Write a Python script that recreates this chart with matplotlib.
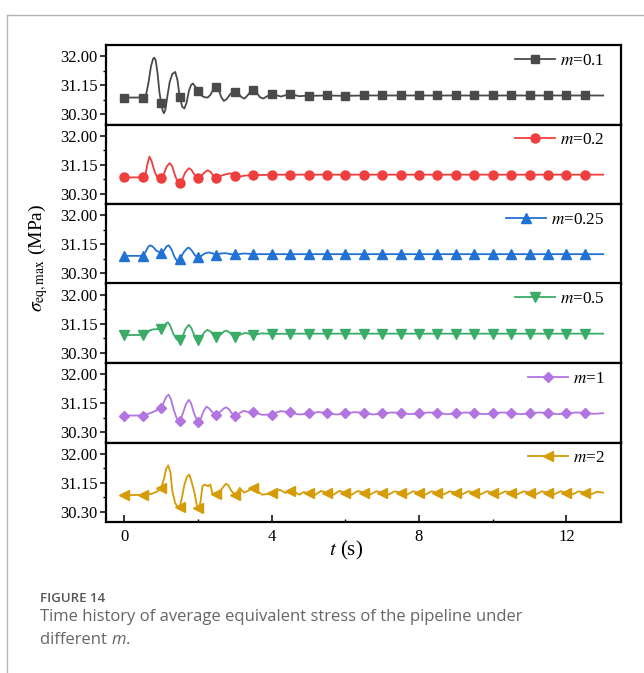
import matplotlib
matplotlib.use("Agg")
import matplotlib.pyplot as plt
from matplotlib.lines import Line2D
from matplotlib.ticker import FixedLocator

plt.rcParams['font.family'] = ['Liberation Serif', 'DejaVu Serif']
plt.rcParams['mathtext.fontset'] = 'stix'

# ---------------- data ----------------
labels = ["$m$=0.1", "$m$=0.2", "$m$=0.25", "$m$=0.5", "$m$=1", "$m$=2"]
colors = ["#4a4a4a", "#ef3e3e", "#2272d6", "#3aac68", "#b274e0", "#d59c06"]
markers = ["s", "o", "^", "v", "D", "<"]
msizes = [6.0, 6.5, 7.0, 7.0, 5.6, 7.0]

tail_t = [5.0, 5.5, 6.0, 6.5, 7.0, 7.5, 8.0, 8.5, 9.0, 9.5, 10.0, 10.5, 11.0, 11.5,
          12.0, 12.5, 13.0]

t_m01 = [0, 0.5, 0.58, 0.65, 0.72, 0.78, 0.81, 0.85, 0.9, 0.95, 1.0, 1.04, 1.07, 1.11,
         1.17, 1.23, 1.3, 1.38, 1.44, 1.5, 1.57, 1.63, 1.69, 1.75, 1.81, 1.86, 1.93,
         2.0, 2.08, 2.17, 2.26, 2.33, 2.42, 2.5, 2.56, 2.63, 2.7, 2.78, 2.88, 3.0, 3.1,
         3.18, 3.26, 3.35, 3.43, 3.5, 3.58, 3.68, 3.77, 3.88, 4.0, 4.12, 4.25, 4.38,
         4.5, 4.62, 4.75, 4.88] + tail_t
v_m01 = [30.79, 30.79, 30.84, 31.20, 31.70, 31.93, 31.96, 31.88, 31.50, 30.95, 30.62,
         30.40, 30.33, 30.42, 30.85, 31.25, 31.48, 31.54, 31.30, 30.82, 30.52, 30.47,
         30.65, 30.98, 31.16, 31.20, 31.10, 30.98, 30.86, 30.80, 30.79, 30.86, 31.04,
         31.10, 31.02, 30.80, 30.69, 30.75, 30.90, 30.96, 30.90, 30.80, 30.76, 30.86,
         30.98, 31.02, 30.95, 30.80, 30.76, 30.83, 30.89, 30.86, 30.82, 30.86, 30.89,
         30.86, 30.83, 30.84,
         30.84, 30.85, 30.84, 30.85, 30.85, 30.85, 30.85, 30.85, 30.85, 30.85, 30.85,
         30.85, 30.85, 30.85, 30.85, 30.85, 30.85]

t_m02 = [0, 0.5, 0.57, 0.62, 0.68, 0.74, 0.82, 0.9, 1.0, 1.07, 1.15, 1.23, 1.3, 1.38,
         1.45, 1.5, 1.56, 1.65, 1.75, 1.82, 1.9, 2.0, 2.08, 2.17, 2.26, 2.34, 2.42, 2.5,
         2.6, 2.75, 2.88, 3.0, 3.12, 3.25, 3.5, 3.75, 4.0, 4.5] + tail_t
v_m02 = [30.78, 30.78, 30.85, 31.15, 31.39, 31.25, 30.95, 30.77, 30.76, 30.88, 31.10,
         31.20, 31.10, 30.82, 30.64, 30.62, 30.68, 30.92, 31.05, 31.00, 30.86, 30.76,
         30.80, 30.92, 30.99, 30.94, 30.82, 30.76, 30.82, 30.87, 30.90, 30.83, 30.80,
         30.83, 30.85, 30.85, 30.86, 30.86,
         30.86, 30.86, 30.86, 30.86, 30.86, 30.86, 30.86, 30.86, 30.86, 30.86, 30.86,
         30.86, 30.86, 30.86, 30.86, 30.86, 30.86]

t_m025 = [0, 0.5, 0.57, 0.65, 0.7, 0.77, 0.87, 1.0, 1.07, 1.14, 1.2, 1.27, 1.36, 1.44,
          1.5, 1.62, 1.7, 1.75, 1.82, 1.92, 2.0, 2.08, 2.18, 2.29, 2.4, 2.5, 2.62,
          2.75, 2.88, 3.0, 3.25, 3.5, 4.0, 4.5] + tail_t
v_m025 = [30.81, 30.81, 30.92, 31.08, 31.12, 31.08, 30.96, 30.90, 30.96, 31.08, 31.12,
          31.02, 30.78, 30.64, 30.71, 30.93, 31.03, 31.05, 30.98, 30.82, 30.77, 30.80,
          30.88, 30.91, 30.88, 30.84, 30.88, 30.89, 30.86, 30.85, 30.88, 30.86, 30.86,
          30.86,
          30.86, 30.86, 30.86, 30.86, 30.86, 30.86, 30.86, 30.86, 30.86, 30.86, 30.86,
          30.86, 30.86, 30.86, 30.86, 30.86, 30.86]

t_m05 = [0, 0.5, 0.6, 0.68, 0.75, 0.85, 1.0, 1.08, 1.14, 1.18, 1.24, 1.33, 1.42, 1.5,
         1.57, 1.66, 1.75, 1.82, 1.9, 2.0, 2.08, 2.17, 2.25, 2.33, 2.42, 2.5, 2.62,
         2.7, 2.77, 2.86, 2.94, 3.0, 3.12, 3.27, 3.38, 3.5, 3.62, 3.75, 4.0, 4.5] + tail_t
v_m05 = [30.82, 30.82, 30.86, 30.95, 30.98, 30.99, 31.00, 31.08, 31.17, 31.19, 31.10,
         30.85, 30.69, 30.66, 30.75, 31.00, 31.12, 31.02, 30.80, 30.67, 30.75, 30.90,
         30.97, 30.93, 30.84, 30.77, 30.84, 30.92, 30.95, 30.89, 30.81, 30.77, 30.82,
         30.88, 30.86, 30.83, 30.85, 30.87, 30.85, 30.86,
         30.86, 30.86, 30.86, 30.86, 30.86, 30.86, 30.86, 30.86, 30.86, 30.86, 30.86,
         30.86, 30.86, 30.86, 30.86, 30.86, 30.86]

t_m1 = [0, 0.5, 0.75, 1.0, 1.07, 1.14, 1.2, 1.26, 1.35, 1.45, 1.5, 1.57, 1.67, 1.75,
        1.81, 1.9, 2.0, 2.06, 2.15, 2.23, 2.3, 2.39, 2.47, 2.5, 2.6, 2.7, 2.77, 2.85,
        2.93, 3.0, 3.1, 3.24, 3.37, 3.5, 3.62, 3.75, 3.88, 4.0, 4.12, 4.25, 4.37, 4.5,
        4.62, 4.75, 5.0, 5.25, 5.5, 5.75, 6.0, 6.25, 6.5, 6.75, 7.0, 7.25, 7.5, 7.75,
        8.0, 8.25, 8.5, 8.75, 9.0, 9.25, 9.5, 9.75, 10.0, 10.25, 10.5, 10.75, 11.0,
        11.25, 11.5, 11.75, 12.0, 12.25, 12.5, 12.75, 13.0]
v_m1 = [30.79, 30.79, 30.88, 31.01, 31.18, 31.35, 31.40, 31.28, 30.92, 30.62, 30.64,
        30.80, 31.12, 31.25, 31.15, 30.82, 30.60, 30.66, 30.92, 31.05, 31.00, 30.88,
        30.80, 30.81, 30.90, 31.00, 31.03, 30.96, 30.84, 30.79, 30.84, 30.93, 30.89,
        30.90, 30.85, 30.81, 30.82, 30.81, 30.88, 30.92, 30.90, 30.90, 30.85, 30.82,
        30.85, 30.89, 30.87, 30.82, 30.85, 30.89, 30.87, 30.82, 30.85, 30.88, 30.87,
        30.83, 30.85, 30.88, 30.87, 30.83, 30.85, 30.88, 30.87, 30.83, 30.85, 30.88,
        30.87, 30.83, 30.85, 30.88, 30.87, 30.83, 30.85, 30.88, 30.87, 30.84, 30.86]

t_m2 = [0, 0.5, 0.75, 0.9, 1.0, 1.07, 1.13, 1.19, 1.25, 1.3, 1.38, 1.46, 1.5, 1.56,
        1.63, 1.7, 1.76, 1.82, 1.91, 1.96, 2.0, 2.06, 2.12, 2.18, 2.27, 2.33, 2.4,
        2.5, 2.6, 2.7, 2.76, 2.82, 2.9, 3.0, 3.07, 3.13, 3.25, 3.37, 3.5, 3.62, 3.74,
        3.87, 4.0, 4.12, 4.25, 4.37, 4.5, 4.62, 4.75, 4.87, 5.0, 5.17, 5.34, 5.5, 5.67,
        5.84, 6.0, 6.17, 6.34, 6.5, 6.67, 6.84, 7.0, 7.17, 7.34, 7.5, 7.67, 7.84, 8.0,
        8.17, 8.34, 8.5, 8.67, 8.84, 9.0, 9.17, 9.34, 9.5, 9.67, 9.84, 10.0, 10.17,
        10.34, 10.5, 10.67, 10.84, 11.0, 11.17, 11.34, 11.5, 11.67, 11.84, 12.0, 12.17,
        12.34, 12.5, 12.67, 12.84, 13.0]
v_m2 = [30.78, 30.80, 30.83, 30.90, 31.00, 31.25, 31.55, 31.66, 31.45, 30.91, 30.55,
        30.42, 30.45, 30.70, 31.10, 31.33, 31.39, 31.20, 30.82, 30.52, 30.40, 30.55,
        31.05, 31.10, 31.05, 31.10, 30.80, 30.82, 30.90, 31.05, 31.12, 31.08, 30.92,
        30.80, 30.88, 31.00, 30.86, 30.92, 31.00, 30.90, 30.80, 30.82, 30.86, 30.95,
        30.93, 30.85, 30.92, 30.88, 30.80, 30.88, 30.84, 30.79, 30.91, 30.86, 30.80,
        30.91, 30.86, 30.80, 30.91, 30.86, 30.80, 30.90, 30.86, 30.80, 30.90, 30.86,
        30.80, 30.90, 30.86, 30.80, 30.90, 30.86, 30.81, 30.90, 30.86, 30.81, 30.90,
        30.86, 30.81, 30.90, 30.86, 30.81, 30.90, 30.86, 30.81, 30.90, 30.86, 30.81,
        30.90, 30.86, 30.81, 30.90, 30.86, 30.81, 30.90, 30.86, 30.81, 30.89, 30.86]

series_t = [t_m01, t_m02, t_m025, t_m05, t_m1, t_m2]
series_v = [v_m01, v_m02, v_m025, v_m05, v_m1, v_m2]

y_ticks = [30.30, 31.15, 32.00]
y_minor = [30.725, 31.575]
x_ticks = [0, 4, 8, 12]
x_minor = [2, 6, 10]

# ---------------- figure ----------------
W, H = 644, 673
fig = plt.figure(figsize=(W / 100, H / 100), dpi=100)
fig.patch.set_facecolor("white")

# page frame
fig.add_artist(Line2D([7 / W, 1.0], [1 - 14.5 / H, 1 - 14.5 / H], transform=fig.transFigure,
                      color="#b5b5b5", lw=1.0))
fig.add_artist(Line2D([7 / W, 7 / W], [0.0, 1 - 14.5 / H], transform=fig.transFigure,
                      color="#b5b5b5", lw=1.0))

left, right = 106, 620.5
top, bottom = 45, 522
ph = (bottom - top) / 6.0
axes = []
for i in range(6):
    ax = fig.add_axes([left / W, 1 - (top + (i + 1) * ph) / H, (right - left) / W, ph / H])
    axes.append(ax)
    ts, vs = series_t[i], series_v[i]
    mk_idx = [k for k, tt in enumerate(ts) if abs(tt * 2 - round(tt * 2)) < 1e-9 and tt <= 12.5]
    ax.plot(ts, vs, color=colors[i], lw=1.3, zorder=2, solid_joinstyle="round")
    ax.plot([ts[k] for k in mk_idx], [vs[k] for k in mk_idx], ls="none", marker=markers[i],
            ms=msizes[i], color=colors[i], mec=colors[i], zorder=3)
    ax.set_xlim(-0.5, 13.47)
    ax.set_ylim(30.0, 32.33)
    ax.yaxis.set_major_locator(FixedLocator(y_ticks))
    ax.yaxis.set_minor_locator(FixedLocator(y_minor))
    ax.set_yticklabels(["%.2f" % v for v in y_ticks])
    ax.tick_params(axis="y", which="major", direction="out", length=4, width=1.1,
                   labelsize=12, pad=2)
    ax.tick_params(axis="y", which="minor", direction="out", length=2, width=1.0)
    for sp in ax.spines.values():
        sp.set_linewidth(1.6)
    h = Line2D([], [], color=colors[i], lw=1.3, marker=markers[i], ms=msizes[i])
    ax.legend([h], [labels[i]], loc="upper right", frameon=False, fontsize=12.3,
              handlelength=2.35, handletextpad=0.3, borderaxespad=0.35, borderpad=0.1,
              bbox_to_anchor=(0.984, 1.0))
    if i < 5:
        ax.tick_params(axis="x", which="both", bottom=False, labelbottom=False)
    else:
        ax.xaxis.set_major_locator(FixedLocator(x_ticks))
        ax.xaxis.set_minor_locator(FixedLocator(x_minor))
        ax.tick_params(axis="x", which="major", direction="in", length=5, width=1.1,
                       labelsize=12, pad=5)
        ax.tick_params(axis="x", which="minor", direction="in", length=2.5, width=1.0)

fig.text(346 / W, 1 - 550 / H, "$t$ (s)", fontsize=15, ha="center", va="center")
fig.text(38 / W, 1 - 258 / H, r"$\sigma_{\rm eq,max}$ (MPa)", rotation=90, fontsize=14,
         ha="center", va="center")

# caption
cap_color = "#666666"
fig.text(40 / W, 1 - 598 / H, "FIGURE 14", fontsize=9.5, color="#555555",
         family="Open Sans", weight="semibold", va="center")
fig.text(40 / W, 1 - 617 / H, "Time history of average equivalent stress of the pipeline under",
         fontsize=12, color=cap_color, family="Open Sans", va="center")
r = fig.canvas.get_renderer()
p1 = fig.text(40 / W, 1 - 640 / H, "different ", fontsize=12, color=cap_color,
              family="Open Sans", va="center")
x1 = p1.get_window_extent(r).x1
p2 = fig.text(x1 / W, 1 - 640 / H, "m", fontsize=12, color=cap_color,
              family="Open Sans", style="italic", va="center")
x2 = p2.get_window_extent(r).x1
fig.text(x2 / W, 1 - 640 / H, ".", fontsize=12, color=cap_color,
         family="Open Sans", va="center")

fig.savefig("out.png", dpi=100)
